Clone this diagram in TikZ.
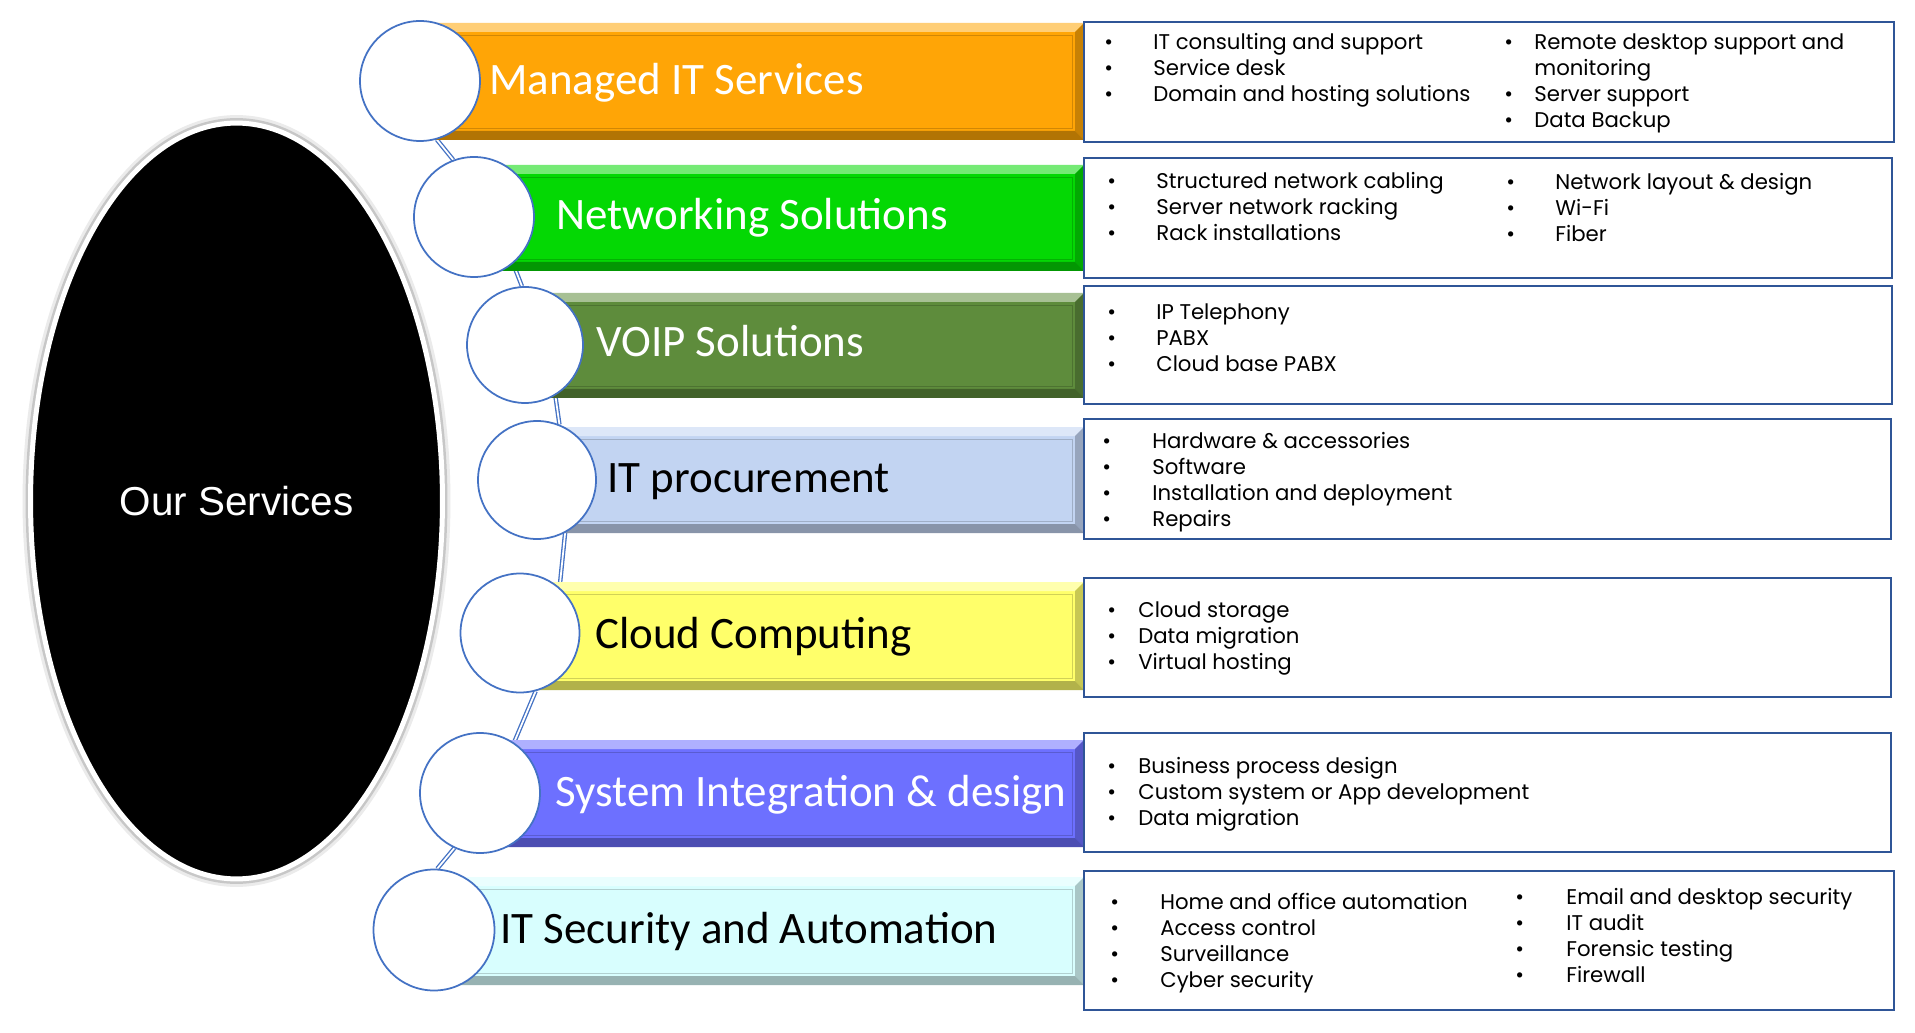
\documentclass[tikz,border=0pt]{standalone}
\usepackage{fontspec}
\setmainfont{Poppins}
\newfontfamily\barfont{Carlito}
\newfontfamily\hubfont{Liberation Sans}
\usetikzlibrary{shapes.geometric,fit}
\definecolor{ringblue}{HTML}{4472C4}
\definecolor{boxblue}{HTML}{2F5597}
\definecolor{managed}{HTML}{FFA506}
\definecolor{network}{HTML}{04D804}
\definecolor{voip}{HTML}{5E8C3C}
\definecolor{procure}{HTML}{C2D4F2}
\definecolor{cloud}{HTML}{FFFF6A}
\definecolor{sysint}{HTML}{6D70FF}
\definecolor{security}{HTML}{D8FEFE}
\pgfdeclarelayer{links}
\pgfdeclarelayer{bars}
\pgfsetlayers{links,bars,main}
\newcommand{\bl}[1]{\strut\makebox[#1][l]{\textbullet}}

\tikzset{
  hub/.style={ellipse, fill=black, draw=white, line width=0.1cm, inner sep=0pt,
    text=white, font=\hubfont\fontsize{23}{28}\selectfont,
    preaction={draw=black!8, line width=0.32cm},
    preaction={draw=black!22, line width=0.2cm}},
  ring/.style={circle, draw=ringblue, fill=white, line width=1pt, inner sep=0pt, minimum size=#1*0.02cm},
  link/.style={draw=ringblue, double=white, double distance=1pt, line width=0.75pt},
  bar/.style={fill=#1, inner sep=0pt, path picture={
    \coordinate (nw) at (path picture bounding box.north west);
    \coordinate (ne) at (path picture bounding box.north east);
    \coordinate (sw) at (path picture bounding box.south west);
    \coordinate (se) at (path picture bounding box.south east);
    \fill[#1!55!white] (nw) -- (ne) -- ([shift={(-9,9)}]ne) -- ([shift={(9,9)}]nw) -- cycle;
    \fill[#1!78!black] (se) -- (ne) -- ([shift={(-9,9)}]ne) -- ([shift={(-9,-9)}]se) -- cycle;
    \fill[#1!70!black] (se) -- (sw) -- ([shift={(9,-9)}]sw) -- ([shift={(-9,-9)}]se) -- cycle;
    \draw[#1!82!black, line width=0.5pt] ([shift={(12,12)}]nw) rectangle ([shift={(-12,-12)}]se);
  }},
  barlabel/.style={font=\barfont\fontsize{25.6}{30}\selectfont, anchor=base west, inner sep=0pt},
  infobox/.style={draw=boxblue, line width=1.4pt, fill=white, inner sep=0pt},
  items/.style={align=left, anchor=north west, inner sep=0pt, font=\fontsize{12.1}{14.68}\selectfont},
}

\begin{document}
\begin{tikzpicture}[x=0.02cm, y=-0.02cm]
  \useasboundingbox (0,0) rectangle (1915,1033);

  % centre ellipse and the seven rings
  \node[hub, minimum width=8.24cm, minimum height=15.12cm] (hub) at (236.5,501) {Our Services};
  \node[ring=120] (c1) at (420,81) {};
  \node[ring=120] (c2) at (474,217) {};
  \node[ring=116] (c3) at (525,345) {};
  \node[ring=118] (c4) at (537,480) {};
  \node[ring=119] (c5) at (520,633) {};
  \node[ring=120] (c6) at (480,793) {};
  \node[ring=121] (c7) at (434,930) {};

  % coloured bars
  \begin{pgfonlayer}{bars}
    \node[bar=managed, fit={(420,23) (1084,140)}] (b1) {};
    \node[bar=network, fit={(474,165) (1084,271)}] (b2) {};
    \node[bar=voip, fit={(525,293) (1084,398)}] (b3) {};
    \node[bar=procure, fit={(537,427) (1084,533)}] (b4) {};
    \node[bar=cloud, fit={(520,582) (1084,690)}] (b5) {};
    \node[bar=sysint, fit={(480,740) (1084,847)}] (b6) {};
    \node[bar=security, fit={(434,877) (1084,985)}] (b7) {};
    \node[barlabel, text=white] (l1) at (489,95) {Managed IT Services};
    \node[barlabel, text=white] (l2) at (556,230) {Networking Solutions};
    \node[barlabel, text=white] (l3) at (596,357) {VOIP Solutions};
    \node[barlabel] (l4) at (607,492) {IT procurement};
    \node[barlabel] (l5) at (595,648) {Cloud Computing};
    \node[barlabel, text=white] (l6) at (555,806) {System Integration \& design};
    \node[barlabel] (l7) at (500,943) {IT Security and Automation};
  \end{pgfonlayer}

  % links between the rings
  \begin{pgfonlayer}{links}
    \fill[white] (0,0) rectangle (1915,1033);
    \draw[link] (c1.-74) -- (c2.110);
    \draw[link] (c2.-50) -- (c3.93);
    \draw[link] (c3.-59) -- (c4.68);
    \draw[link] (c4.-62) -- (c5.49);
    \draw[link] (c5.-75) -- (c6.56);
    \draw[link] (c6.-115) -- (c7.87);
  \end{pgfonlayer}

  % detail boxes
  \node[infobox, fit={(1084,22) (1894,142)}] (d1) {};
  \node[infobox, fit={(1084,158) (1892,278)}] (d2) {};
  \node[infobox, fit={(1084,286) (1892,404)}] (d3) {};
  \node[infobox, fit={(1084,419) (1891,539)}] (d4) {};
  \node[infobox, fit={(1084,578) (1891,697)}] (d5) {};
  \node[infobox, fit={(1084,733) (1891,852)}] (d6) {};
  \node[infobox, fit={(1084,871) (1894,1010)}] (d7) {};

  \node[items] (t1a) at (1104,31.4) {\bl{9.8mm}IT consulting and support\\ \bl{9.8mm}Service desk\\ \bl{9.8mm}Domain and hosting solutions};
  \node[items] (t1b) at (1504,31.4) {\bl{6mm}Remote desktop support and\\ \strut\hspace*{6mm}monitoring\\ \bl{6mm}Server support\\ \bl{6mm}Data Backup};
  \node[items] (t2a) at (1107,170.4) {\bl{9.8mm}Structured network cabling\\ \bl{9.8mm}Server network racking\\ \bl{9.8mm}Rack installations};
  \node[items] (t2b) at (1506,171.4) {\bl{9.8mm}Network layout \& design\\ \bl{9.8mm}Wi-Fi\\ \bl{9.8mm}Fiber};
  \node[items] (t3) at (1107,301.4) {\bl{9.8mm}IP Telephony\\ \bl{9.8mm}PABX\\ \bl{9.8mm}Cloud base PABX};
  \node[items] (t4) at (1102,430.4) {\bl{10mm}Hardware \& accessories\\ \bl{10mm}Software\\ \bl{10mm}Installation and deployment\\ \bl{10mm}Repairs};
  \node[items] (t5) at (1107,599.4) {\bl{6.2mm}Cloud storage\\ \bl{6.2mm}Data migration\\ \bl{6.2mm}Virtual hosting};
  \node[items] (t6) at (1107,755.4) {\bl{6.2mm}Business process design\\ \bl{6.2mm}Custom system or App development\\ \bl{6.2mm}Data migration};
  \node[items] (t7a) at (1110,891.4) {\bl{10mm}Home and office automation\\ \bl{10mm}Access control\\ \bl{10mm}Surveillance\\ \bl{10mm}Cyber security};
  \node[items] (t7b) at (1515,886.4) {\bl{10.2mm}Email and desktop security\\ \bl{10.2mm}IT audit\\ \bl{10.2mm}Forensic testing\\ \bl{10.2mm}Firewall};
\end{tikzpicture}
\end{document}
